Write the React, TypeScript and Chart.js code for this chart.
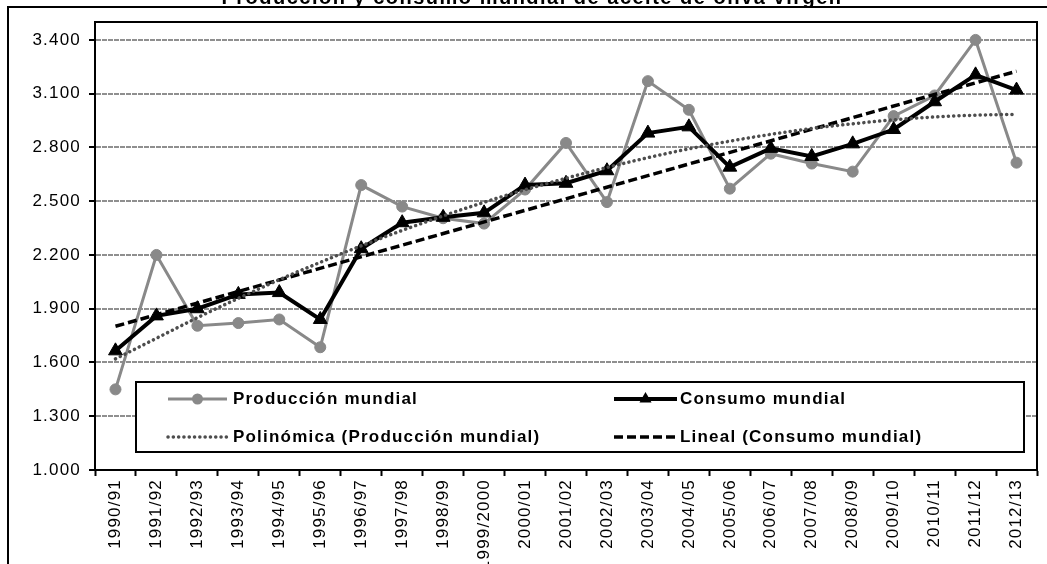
import React, { useEffect, useRef } from "react";
import { Chart, registerables } from "chart.js";

Chart.register(...registerables);

const categories = [
  "1990/91", "1991/92", "1992/93", "1993/94", "1994/95", "1995/96", "1996/97", "1997/98",
  "1998/99", "1999/2000", "2000/01", "2001/02", "2002/03", "2003/04", "2004/05", "2005/06",
  "2006/07", "2007/08", "2008/09", "2009/10", "2010/11", "2011/12", "2012/13",
];

const produccionMundial = [
  1450, 2200, 1805, 1820, 1840, 1685, 2590, 2470, 2405, 2375, 2565, 2825,
  2495, 3170, 3010, 2570, 2765, 2710, 2665, 2975, 3090, 3400, 2715,
];

const consumoMundial = [
  1665, 1860, 1900, 1980, 1990, 1840, 2235, 2380, 2410, 2435, 2590, 2600,
  2670, 2880, 2915, 2690, 2795, 2750, 2820, 2900, 3055, 3205, 3120,
];

const polinomicaProduccion = [
  1620, 1735, 1850, 1958, 2062, 2159, 2251, 2337, 2418, 2494, 2564, 2628,
  2688, 2743, 2792, 2835, 2873, 2906, 2932, 2954, 2970, 2980, 2985,
];

const linealConsumo: (number | null)[] = [
  1802, null, null, null, null, null, null, null, null, null, null, null,
  null, null, null, null, null, null, null, null, null, null, 3225,
];

const yTickValues = [1000, 1300, 1600, 1900, 2200, 2500, 2800, 3100, 3400];
const yMin = 1000;
const yMax = 3500;

const titleText = "Producción y consumo mundial de aceite de oliva virgen";
const legendLabels = [
  "Producción mundial",
  "Consumo mundial",
  "Polinómica (Producción mundial)",
  "Lineal (Consumo mundial)",
];

const FONT = '"Liberation Sans", Arial, sans-serif';
const LS = "1.2px";
const GREY = "#898989";
const DOTGREY = "#4d4d4d";
const GRIDGREY = "#8f8f8f";

function fmt(v: number): string {
  const th = Math.floor(v / 1000);
  const rest = String(Math.round(v % 1000)).padStart(3, "0");
  return th + "." + rest;
}

function triangle(ctx: CanvasRenderingContext2D, x: number, y: number, r: number) {
  ctx.beginPath();
  for (let k = 0; k < 3; k++) {
    const a = (k * 2 * Math.PI) / 3;
    const px = x + Math.sin(a) * r;
    const py = y - Math.cos(a) * r;
    if (k === 0) ctx.moveTo(px, py);
    else ctx.lineTo(px, py);
  }
  ctx.closePath();
  ctx.fill();
}

const customPlugin = {
  id: "customDecor",
  beforeUpdate(chart: any) {
    chart.ctx.letterSpacing = LS;
  },
  beforeLayout(chart: any) {
    chart.ctx.letterSpacing = LS;
  },
  beforeDraw(chart: any) {
    const ctx: CanvasRenderingContext2D = chart.ctx;
    (ctx as any).letterSpacing = LS;
    ctx.save();
    ctx.fillStyle = "#ffffff";
    ctx.fillRect(0, 0, chart.width, chart.height);
    ctx.strokeStyle = "#000";
    ctx.lineWidth = 2;
    ctx.strokeRect(8, 7, chart.width + 100, chart.height + 100);
    ctx.fillStyle = "#000";
    (ctx as any).letterSpacing = "1.5px";
    ctx.font = `bold 20px ${FONT}`;
    ctx.textAlign = "center";
    ctx.textBaseline = "alphabetic";
    ctx.fillText(titleText, 532, 4);
    ctx.restore();
    (ctx as any).letterSpacing = LS;
  },
  afterDatasetsDraw(chart: any) {
    const ctx: CanvasRenderingContext2D = chart.ctx;
    const a = chart.chartArea;
    ctx.save();
    ctx.setLineDash([]);
    ctx.strokeStyle = "#000";
    ctx.lineWidth = 2;
    ctx.strokeRect(a.left, a.top, a.right - a.left, a.bottom - a.top);

    // legend box
    const bx = 136, by = 382, bw = 888, bh = 70;
    ctx.fillStyle = "#fff";
    ctx.fillRect(bx, by, bw, bh);
    ctx.strokeRect(bx, by, bw, bh);

    const r1 = 399, r2 = 437;
    const lx1 = 168, lx2 = 227, rx1 = 614, rx2 = 677;

    // Producción mundial
    ctx.strokeStyle = GREY;
    ctx.lineWidth = 3;
    ctx.beginPath(); ctx.moveTo(lx1, r1); ctx.lineTo(lx2, r1); ctx.stroke();
    ctx.fillStyle = GREY;
    ctx.beginPath(); ctx.arc((lx1 + lx2) / 2, r1, 5.5, 0, Math.PI * 2); ctx.fill();

    // Consumo mundial
    ctx.strokeStyle = "#000";
    ctx.lineWidth = 4;
    ctx.beginPath(); ctx.moveTo(rx1, r1); ctx.lineTo(rx2, r1); ctx.stroke();
    ctx.fillStyle = "#000";
    triangle(ctx, (rx1 + rx2) / 2, r1, 7);

    // Polinómica
    ctx.strokeStyle = DOTGREY;
    ctx.lineWidth = 3.5;
    ctx.lineCap = "round";
    ctx.setLineDash([0.1, 5.2]);
    ctx.beginPath(); ctx.moveTo(lx1, r2); ctx.lineTo(lx2, r2); ctx.stroke();

    // Lineal
    ctx.strokeStyle = "#000";
    ctx.lineWidth = 3.5;
    ctx.lineCap = "butt";
    ctx.setLineDash([9, 4]);
    ctx.beginPath(); ctx.moveTo(rx1, r2); ctx.lineTo(rx2, r2); ctx.stroke();
    ctx.setLineDash([]);

    ctx.fillStyle = "#000";
    ctx.font = `bold 17px ${FONT}`;
    ctx.textAlign = "left";
    ctx.textBaseline = "middle";
    ctx.fillText(legendLabels[0], 233, r1);
    ctx.fillText(legendLabels[1], 680, r1);
    ctx.fillText(legendLabels[2], 233, r2);
    ctx.fillText(legendLabels[3], 680, r2);
    ctx.restore();
  },
};

export default function App() {
  const ref = useRef<HTMLCanvasElement | null>(null);

  useEffect(() => {
    if (!ref.current) return;
    Chart.defaults.font.family = FONT;
    const chart = new Chart(ref.current, {
      type: "line",
      data: {
        labels: categories,
        datasets: [
          {
            label: legendLabels[0],
            data: produccionMundial,
            borderColor: GREY,
            backgroundColor: GREY,
            borderWidth: 3,
            pointStyle: "circle",
            pointRadius: 5.5,
            pointBackgroundColor: GREY,
            pointBorderColor: GREY,
            pointBorderWidth: 1,
            tension: 0,
            order: 4,
          },
          {
            label: legendLabels[1],
            data: consumoMundial,
            borderColor: "#000",
            backgroundColor: "#000",
            borderWidth: 4,
            pointStyle: "triangle",
            pointRadius: 8,
            pointBackgroundColor: "#000",
            pointBorderColor: "#000",
            pointBorderWidth: 1,
            tension: 0,
            order: 3,
          },
          {
            label: legendLabels[2],
            data: polinomicaProduccion,
            borderColor: DOTGREY,
            borderWidth: 3.5,
            borderDash: [0.1, 5.2],
            borderCapStyle: "round",
            pointRadius: 0,
            cubicInterpolationMode: "monotone",
            order: 1,
          },
          {
            label: legendLabels[3],
            data: linealConsumo,
            borderColor: "#000",
            borderWidth: 3.5,
            borderDash: [9, 4],
            pointRadius: 0,
            spanGaps: true,
            order: 2,
          },
        ],
      },
      options: {
        animation: false,
        responsive: false,
        events: [],
        layout: { padding: { top: 22, right: 10, left: 0, bottom: 0 } },
        plugins: {
          legend: { display: false },
          title: { display: false },
          tooltip: { enabled: false },
        },
        scales: {
          x: {
            type: "category",
            offset: true,
            grid: {
              display: true,
              drawOnChartArea: false,
              drawTicks: true,
              offset: true,
              tickLength: 6,
              tickColor: "#000",
              tickWidth: 2,
            },
            border: { display: true, color: "#000", width: 2 },
            ticks: {
              autoSkip: false,
              maxRotation: 90,
              minRotation: 90,
              color: "#000",
              padding: 3,
              font: { family: FONT, size: 17 },
            },
            afterFit: (s: any) => {
              s.height = 94;
            },
          },
          y: {
            min: yMin,
            max: yMax,
            afterBuildTicks: (s: any) => {
              s.ticks = yTickValues.map((v) => ({ value: v }));
            },
            grid: {
              color: GRIDGREY,
              lineWidth: 2,
              drawTicks: true,
              tickLength: 6,
              tickColor: "#000",
              tickWidth: 2,
              tickBorderDash: [],
            },
            border: { display: true, color: "#000", width: 2, dash: [5, 1] },
            ticks: {
              color: "#000",
              padding: 8,
              font: { family: FONT, size: 17 },
              callback: (v: any) => fmt(Number(v)),
            },
            afterFit: (s: any) => {
              s.width = 95;
            },
          },
        },
      },
      plugins: [customPlugin],
    } as any);
    return () => chart.destroy();
  }, []);

  return (
    <div
      style={{
        position: "fixed",
        left: 0,
        top: 0,
        width: 1047,
        height: 564,
        background: "#fff",
        overflow: "hidden",
      }}
    >
      <canvas ref={ref} width={1047} height={564} style={{ display: "block" }} />
    </div>
  );
}
